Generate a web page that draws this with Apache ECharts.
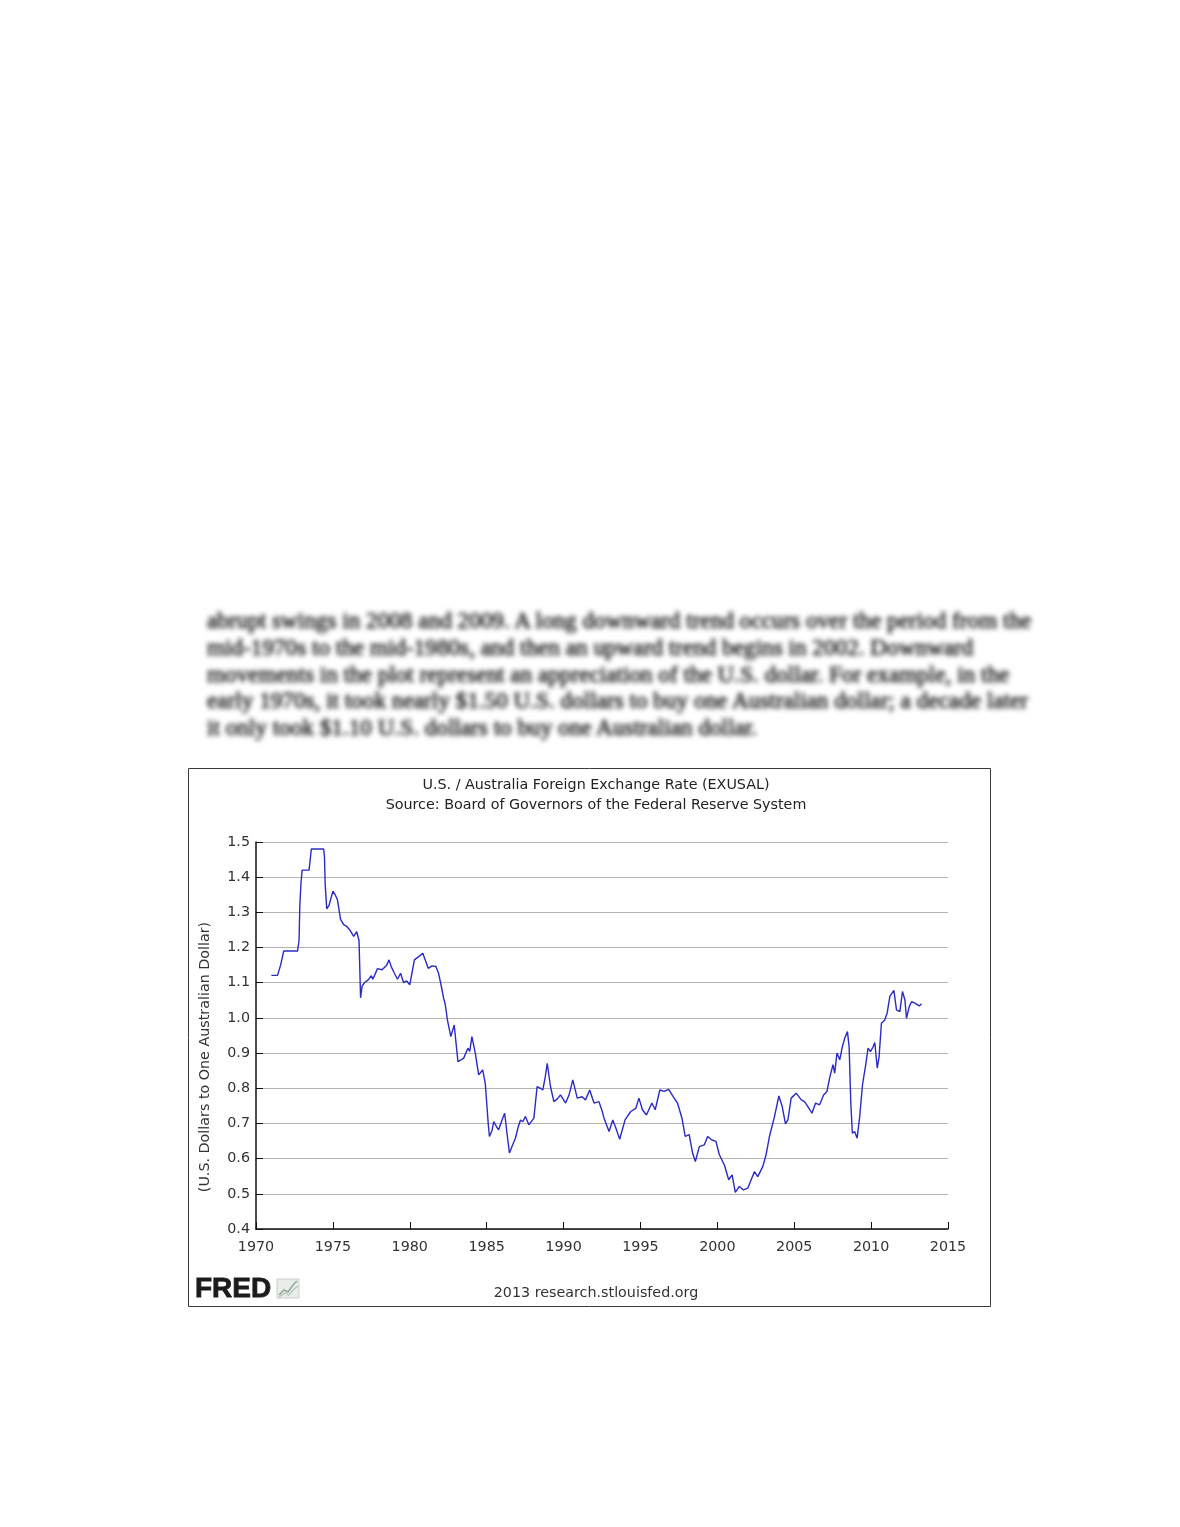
<!DOCTYPE html>
<html>
<head>
<meta charset="utf-8">
<script src="https://cdn.jsdelivr.net/npm/echarts@6/dist/echarts.min.js"></script>
<style>
  html, body { margin:0; padding:0; background:#fff; }
  #wrap { position:relative; width:1180px; height:1527px; overflow:hidden; }
  #chart { position:absolute; left:0; top:0; width:1180px; height:1527px; }
  #para { position:absolute; left:207px; top:607px; font-family:'Liberation Serif','DejaVu Serif',serif;
          font-size:23.2px; line-height:26.8px; color:#111; white-space:nowrap; filter:blur(2.8px);
          -webkit-text-stroke:0.6px #111; }
</style>
</head>
<body>
<div id="wrap">
  <div id="chart"></div>
  <div id="para">abrupt swings in 2008 and 2009. A long downward trend occurs over the period from the<br>mid-1970s to the mid-1980s, and then an upward trend begins in 2002. Downward<br>movements in the plot represent an appreciation of the U.S. dollar. For example, in the<br>early 1970s, it took nearly $1.50 U.S. dollars to buy one Australian dollar; a decade later<br>it only took $1.10 U.S. dollars to buy one Australian dollar.</div>
</div>
<script>
// ---- data ----
const years = [
 1971.0,1971.4,1971.6,1971.8,1972.7,1972.8,1972.85,1972.92,1973.0,1973.45,1973.5,1973.6,1974.4,1974.45,1974.5,1974.6,1974.75,
 1975.0,1975.15,1975.3,1975.5,1975.7,1975.9,1976.1,1976.35,1976.55,1976.7,1976.8,1976.9,1977.05,1977.3,1977.5,1977.6,1977.9,
 1978.2,1978.5,1978.65,1978.8,1979.0,1979.2,1979.4,1979.6,1979.8,1980.0,1980.3,1980.6,1980.85,1981.0,1981.2,1981.45,1981.7,
 1981.87,1982.05,1982.2,1982.3,1982.45,1982.67,1982.89,1983.13,1983.3,1983.5,1983.78,1983.9,1984.04,1984.26,1984.48,1984.74,
 1984.91,1985.1,1985.18,1985.35,1985.46,1985.65,1985.78,1986.0,1986.17,1986.3,1986.48,1986.7,1986.87,1987.05,1987.2,1987.35,
 1987.52,1987.74,1988.07,1988.28,1988.5,1988.65,1988.8,1988.94,1989.15,1989.37,1989.6,1989.8,1990.13,1990.35,1990.6,1990.89,
 1991.2,1991.43,1991.7,1991.98,1992.3,1992.52,1992.63,1992.96,1993.2,1993.4,1993.65,1994.0,1994.37,1994.7,1994.9,1995.13,
 1995.39,1995.74,1995.96,1996.26,1996.54,1996.83,1997.13,1997.41,1997.7,1997.91,1998.17,1998.39,1998.57,1998.83,1999.15,
 1999.37,1999.65,1999.91,2000.13,2000.46,2000.74,2000.96,2001.17,2001.43,2001.7,2001.98,2002.2,2002.41,2002.63,2002.96,
 2003.17,2003.39,2003.72,2004.0,2004.22,2004.43,2004.59,2004.8,2005.13,2005.46,2005.67,2005.89,2006.15,2006.39,2006.65,
 2006.91,2007.13,2007.3,2007.52,2007.63,2007.78,2007.96,2008.13,2008.28,2008.46,2008.57,2008.68,2008.78,2008.93,2009.09,
 2009.26,2009.44,2009.65,2009.8,2009.96,2010.13,2010.24,2010.4,2010.52,2010.67,2010.89,2011.04,2011.22,2011.48,2011.65,
 2011.87,2012.04,2012.2,2012.3,2012.48,2012.63,2012.85,2012.96,2013.13,2013.28
];
const rates = [
 1.121,1.121,1.15,1.19,1.19,1.22,1.32,1.38,1.42,1.42,1.44,1.48,1.48,1.46,1.38,1.31,1.32,
 1.36,1.35,1.335,1.28,1.265,1.26,1.25,1.232,1.245,1.22,1.057,1.09,1.10,1.108,1.12,1.11,1.14,
 1.137,1.15,1.165,1.145,1.127,1.11,1.127,1.10,1.105,1.094,1.165,1.175,1.184,1.165,1.141,1.148,1.146,
 1.127,1.09,1.056,1.04,0.994,0.947,0.98,0.876,0.88,0.885,0.914,0.905,0.947,0.90,0.838,0.852,
 0.814,0.70,0.663,0.68,0.705,0.69,0.682,0.71,0.729,0.68,0.616,0.64,0.658,0.69,0.710,0.705,
 0.72,0.696,0.715,0.805,0.80,0.795,0.83,0.871,0.805,0.762,0.77,0.781,0.758,0.78,0.824,0.772,
 0.776,0.767,0.795,0.758,0.762,0.734,0.715,0.677,0.710,0.687,0.655,0.710,0.734,0.743,0.772,0.739,
 0.724,0.758,0.739,0.795,0.791,0.797,0.776,0.758,0.715,0.663,0.668,0.616,0.592,0.634,0.639,
 0.663,0.653,0.649,0.611,0.582,0.540,0.554,0.504,0.521,0.511,0.516,0.540,0.563,0.549,0.578,
 0.611,0.663,0.720,0.778,0.748,0.699,0.710,0.772,0.786,0.767,0.762,0.748,0.729,0.758,0.753,
 0.781,0.791,0.829,0.867,0.843,0.90,0.881,0.918,0.942,0.961,0.918,0.758,0.672,0.677,0.658,
 0.720,0.810,0.867,0.914,0.904,0.918,0.930,0.857,0.890,0.985,0.994,1.013,1.061,1.078,1.023,
 1.018,1.075,1.051,0.999,1.032,1.046,1.042,1.046,1.034,1.04
];
const titleText = 'U.S. / Australia Foreign Exchange Rate (EXUSAL)';
const subtitleText = 'Source: Board of Governors of the Federal Reserve System';
const yAxisTitle = '(U.S. Dollars to One Australian Dollar)';
const footerText = '2013 research.stlouisfed.org';
const xMin = 1970, xMax = 2015, xStep = 5;
const yMin = 0.4, yMax = 1.5, yStep = 0.1;

const seriesData = years.map((y, i) => [y, rates[i]]);
const FONT = 'DejaVu Sans';
const FS = 14.3;

const chart = echarts.init(document.getElementById('chart'), null, {renderer: 'canvas'});
chart.setOption({
  animation: false,
  backgroundColor: 'transparent',
  title: {
    text: titleText,
    subtext: subtitleText,
    left: 591, top: 772, textAlign: 'center',
    itemGap: 3,
    textStyle: {fontFamily: FONT, fontSize: FS, fontWeight: 'normal', color: '#222', lineHeight: 17},
    subtextStyle: {fontFamily: FONT, fontSize: FS, color: '#222', lineHeight: 17}
  },
  grid: {left: 256, right: 232, top: 842, bottom: 298, containLabel: false},
  xAxis: {
    type: 'value', min: xMin, max: xMax, interval: xStep,
    axisLine: {show: true, lineStyle: {color: '#111', width: 1.5}},
    axisTick: {show: true, inside: true, length: 7, lineStyle: {color: '#111'}},
    axisLabel: {fontFamily: FONT, fontSize: FS, color: '#333', margin: 11, formatter: v => String(v)},
    splitLine: {show: false}
  },
  yAxis: {
    type: 'value', min: yMin, max: yMax, interval: yStep,
    axisLine: {show: true, lineStyle: {color: '#111', width: 1.5}},
    axisTick: {show: true, inside: true, length: 7, lineStyle: {color: '#111'}},
    axisLabel: {fontFamily: FONT, fontSize: FS, color: '#333', margin: 6, formatter: v => v.toFixed(1)},
    splitLine: {show: true, lineStyle: {color: '#b4b4b4', width: 1}}
  },
  series: [{
    type: 'line', data: seriesData, showSymbol: false, symbol: 'none',
    lineStyle: {color: '#2a2ac8', width: 1.4}, z: 5
  }],
  graphic: [
    {type: 'rect', shape: {x: 188.5, y: 768.5, width: 802, height: 538}, style: {fill: 'none', stroke: '#3a3a3a', lineWidth: 1}, silent: true, z: -1},
    {type: 'text', x: 205, y: 1057, rotation: Math.PI / 2,
     style: {text: yAxisTitle, fontFamily: FONT, fontSize: FS, fill: '#333', textAlign: 'center', textVerticalAlign: 'middle'}},
    {type: 'text', x: 596, y: 1293,
     style: {text: footerText, fontFamily: FONT, fontSize: FS, fill: '#333', textAlign: 'center', textVerticalAlign: 'middle'}},
    {type: 'text', x: 195, y: 1289,
     style: {text: 'FRED', fontFamily: 'Liberation Sans', fontWeight: 'bold', fontSize: 28, fill: '#1c1c1c', textAlign: 'left', textVerticalAlign: 'middle', stroke: '#1c1c1c', lineWidth: 0.8}},
    {type: 'rect', shape: {x: 277, y: 1279, width: 22, height: 19}, style: {fill: '#e9ede9', stroke: '#c9d0c9', lineWidth: 1}},
    {type: 'polyline', shape: {points: [[279, 1295], [284, 1290], [288, 1292], [293, 1285], [297, 1281]]}, style: {stroke: '#8fa898', lineWidth: 1.5, fill: 'none'}},
    {type: 'polyline', shape: {points: [[279, 1297], [285, 1293], [289, 1295], [294, 1289], [298, 1286]]}, style: {stroke: '#b5c2b8', lineWidth: 1.2, fill: 'none'}}
  ]
});
</script>
</body>
</html>
